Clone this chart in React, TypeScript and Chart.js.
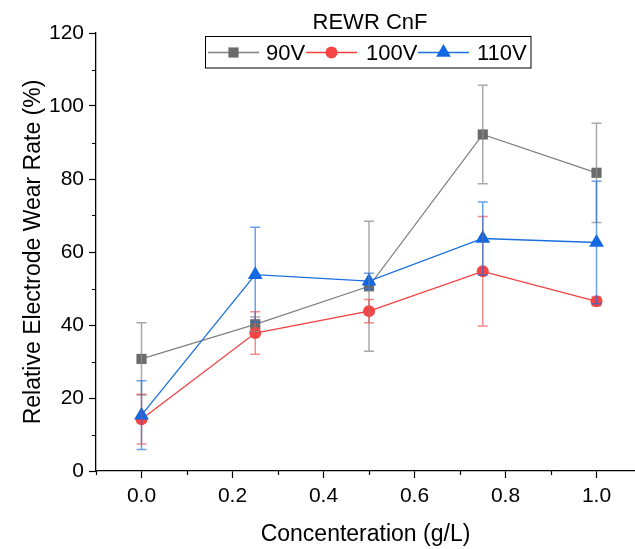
import React, { useEffect, useRef } from 'react';
import { Chart, registerables } from 'chart.js';

Chart.register(...registerables);

// ---- data ----
const concentrations = [0, 0.25, 0.5, 0.75, 1.0];
const rate90 = [30.7, 40.2, 50.6, 92.2, 81.7];
const err90 = [9.9, 2.0, 17.8, 13.5, 13.6];
const rate100 = [14.2, 37.8, 43.8, 54.7, 46.5];
const err100 = [6.8, 5.8, 3.2, 15.0, 1.2];
const rate110 = [15.3, 53.8, 52.0, 63.7, 62.6];
const err110 = [9.4, 13.0, 2.2, 10.0, 16.8];
const seriesLabels = ['90V', '100V', '110V'];
const xTickValues = [0, 0.2, 0.4, 0.6, 0.8, 1.0];
const xMinorValues = [-0.1, 0.1, 0.3, 0.5, 0.7, 0.9, 1.1];
const yTickValues = [0, 20, 40, 60, 80, 100, 120];
const yMinorValues = [10, 30, 50, 70, 90, 110];
const legendTitle = 'REWR CnF';
const xTitle = 'Concenteration (g/L)';
const yTitle = 'Relative Electrode Wear Rate (%)';

const FONT = '"Liberation Sans", Arial, sans-serif';

const lineColors = ['#808080', '#F24040', '#1A6FDF'];
const markerColors = ['#6B6B6B', '#F54545', '#1168E0'];
const errColors = ['rgba(140,140,140,0.75)', 'rgba(242,64,64,0.6)', 'rgba(26,111,223,0.65)'];
const pointStyles = ['rect', 'circle', 'triangle'];
const pointRadii = [7.2, 6, 8.5];

const values = [rate90, rate100, rate110];
const errors = [err90, err100, err110];

const errorBarPlugin = {
  id: 'errorBars',
  afterDatasetsDraw(chart: any) {
    const ctx = chart.ctx;
    const xs = chart.scales.x;
    const ys = chart.scales.y;
    ctx.save();
    for (let i = 0; i < values.length; i++) {
      ctx.strokeStyle = errColors[i];
      ctx.lineWidth = 1.5;
      for (let j = 0; j < concentrations.length; j++) {
        const x = xs.getPixelForValue(concentrations[j]);
        const yt = ys.getPixelForValue(values[i][j] + errors[i][j]);
        const yb = ys.getPixelForValue(values[i][j] - errors[i][j]);
        ctx.beginPath();
        ctx.moveTo(x, yt);
        ctx.lineTo(x, yb);
        ctx.moveTo(x - 5, yt);
        ctx.lineTo(x + 5, yt);
        ctx.moveTo(x - 5, yb);
        ctx.lineTo(x + 5, yb);
        ctx.stroke();
      }
    }
    ctx.restore();
  },
};

function drawMarker(ctx: any, style: string, x: number, y: number, r: number, color: string) {
  ctx.fillStyle = color;
  ctx.beginPath();
  if (style === 'rect') {
    const s = r * Math.SQRT1_2;
    ctx.rect(x - s, y - s, 2 * s, 2 * s);
  } else if (style === 'circle') {
    ctx.arc(x, y, r, 0, Math.PI * 2);
  } else {
    const w = r * Math.sqrt(3) / 2;
    ctx.moveTo(x, y - r);
    ctx.lineTo(x + w, y + r / 2);
    ctx.lineTo(x - w, y + r / 2);
    ctx.closePath();
  }
  ctx.fill();
}

const decorPlugin = {
  id: 'decor',
  afterDraw(chart: any) {
    const ctx = chart.ctx;
    const xs = chart.scales.x;
    const ys = chart.scales.y;
    const area = chart.chartArea;
    ctx.save();
    // minor ticks
    ctx.strokeStyle = '#000';
    ctx.lineWidth = 1.2;
    ctx.beginPath();
    for (const v of xMinorValues) {
      const x = Math.round(xs.getPixelForValue(v)) + 0.5;
      if (x < area.left - 1 || x > chart.width) continue;
      ctx.moveTo(x, area.bottom);
      ctx.lineTo(x, area.bottom + 4);
    }
    for (const v of yMinorValues) {
      const y = Math.round(ys.getPixelForValue(v)) + 0.5;
      ctx.moveTo(area.left, y);
      ctx.lineTo(area.left - 4, y);
    }
    ctx.stroke();

    // legend title
    ctx.fillStyle = '#000';
    ctx.font = `22px ${FONT}`;
    ctx.textAlign = 'center';
    ctx.textBaseline = 'middle';
    ctx.fillText(legendTitle, 370, 23);

    // legend box
    ctx.strokeStyle = '#000';
    ctx.lineWidth = 1;
    ctx.strokeRect(205.5, 36.5, 325.5, 31.5);

    const lineStarts = [208, 306, 418];
    const textStarts = [266, 366, 477];
    const ly = 52.5;
    ctx.textAlign = 'left';
    for (let i = 0; i < seriesLabels.length; i++) {
      const x0 = lineStarts[i];
      ctx.strokeStyle = lineColors[i];
      ctx.lineWidth = 1.3;
      ctx.beginPath();
      ctx.moveTo(x0, ly);
      ctx.lineTo(x0 + 51, ly);
      ctx.stroke();
      drawMarker(ctx, pointStyles[i], x0 + 25.5, ly, pointRadii[i], markerColors[i]);
      ctx.fillStyle = '#000';
      ctx.fillText(seriesLabels[i], textStarts[i], ly + 1);
    }
    ctx.restore();
  },
};

export default function App() {
  const canvasRef = useRef<HTMLCanvasElement>(null);

  useEffect(() => {
    if (!canvasRef.current) return;
    const datasets = values.map((vals, i) => ({
      label: seriesLabels[i],
      data: vals.map((v, j) => ({ x: concentrations[j], y: v })),
      borderColor: lineColors[i],
      backgroundColor: markerColors[i],
      borderWidth: 1.3,
      pointStyle: pointStyles[i],
      pointRadius: pointRadii[i],
      pointBorderWidth: 0,
      pointBackgroundColor: markerColors[i],
      pointBorderColor: markerColors[i],
      tension: 0,
      fill: false,
      clip: false,
      order: 3 - i,
    }));

    const chart = new Chart(canvasRef.current, {
      type: 'line',
      data: { datasets },
      plugins: [errorBarPlugin, decorPlugin],
      options: {
        animation: false,
        responsive: true,
        maintainAspectRatio: false,
        layout: { autoPadding: false, padding: { top: 33, right: 0, left: 0, bottom: 0 } },
        plugins: {
          legend: { display: false },
          tooltip: { enabled: false },
          title: { display: false },
        },
        scales: {
          x: {
            type: 'linear',
            min: -0.1,
            max: 1.0846,
            afterBuildTicks: (scale: any) => {
              scale.ticks = xTickValues.map((v) => ({ value: v }));
            },
            afterFit: (scale: any) => {
              scale.height = 78;
              scale.paddingLeft = 0;
              scale.paddingRight = 0;
            },
            ticks: {
              color: '#000',
              font: { family: FONT, size: 21 },
              padding: 6,
              maxRotation: 0,
              autoSkip: false,
              callback: (v: any) => Number(v).toFixed(1),
            },
            grid: {
              display: true,
              drawOnChartArea: false,
              drawTicks: true,
              tickLength: 7,
              tickWidth: 1.2,
              tickColor: '#000',
            },
            border: { display: true, color: '#000', width: 1.3 },
            title: {
              display: true,
              text: xTitle,
              color: '#000',
              font: { family: FONT, size: 23 },
              padding: { top: 0, bottom: 1 },
            },
          },
          y: {
            type: 'linear',
            min: 0,
            max: 120,
            afterBuildTicks: (scale: any) => {
              scale.ticks = yTickValues.map((v) => ({ value: v }));
            },
            afterFit: (scale: any) => {
              scale.width = 96;
              scale.paddingTop = 0;
              scale.paddingBottom = 0;
            },
            ticks: {
              color: '#000',
              font: { family: FONT, size: 21 },
              padding: 5,
              autoSkip: false,
            },
            grid: {
              display: true,
              drawOnChartArea: false,
              drawTicks: true,
              tickLength: 7,
              tickWidth: 1.2,
              tickColor: '#000',
            },
            border: { display: true, color: '#000', width: 1.3 },
            title: {
              display: true,
              text: yTitle,
              color: '#000',
              font: { family: FONT, size: 23 },
              padding: { top: 20, bottom: 0 },
            },
          },
        },
      },
    } as any);

    return () => chart.destroy();
  }, []);

  return (
    <div style={{ position: 'absolute', left: 0, top: 0, width: 635, height: 549 }}>
      <canvas ref={canvasRef} />
    </div>
  );
}
